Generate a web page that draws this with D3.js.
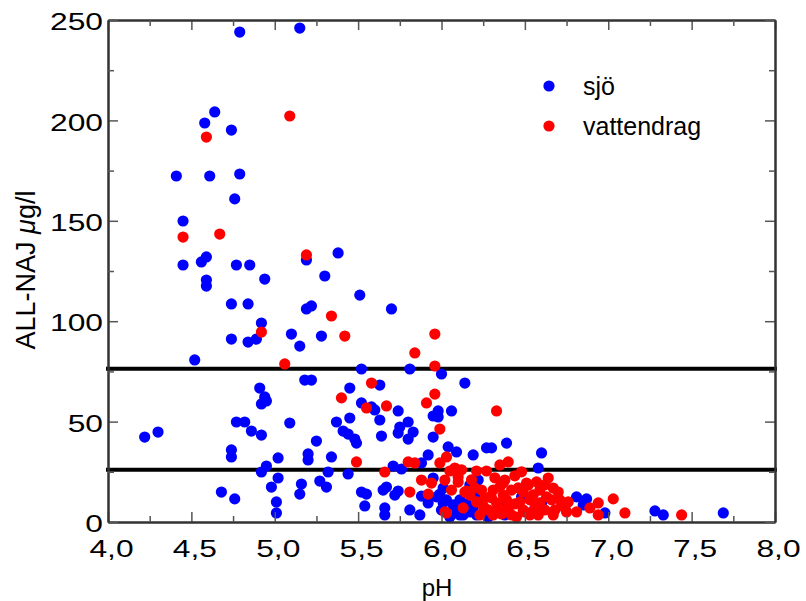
<!DOCTYPE html>
<html><head><meta charset="utf-8">
<script src="https://cdn.jsdelivr.net/npm/d3@7"></script>
<style>body{margin:0;background:#fff}</style>
</head><body>
<svg id="c" width="806" height="601"></svg>
<script>
const sjoPH=[4.79,5.15,4.64,4.58,4.74,4.41,4.61,4.79,4.76,4.45,4.45,4.56,4.59,4.77,4.85,4.59,4.59,4.94,4.74,4.84,5.19,5.38,5.30,5.51,5.19,5.22,5.70,4.92,4.74,4.84,4.89,5.10,5.15,5.28,4.52,5.52,5.81,6.00,4.22,4.30,4.91,4.94,4.95,4.92,5.18,5.22,4.77,4.82,4.86,4.92,5.09,4.74,4.74,5.02,5.20,5.20,5.34,5.25,5.45,5.52,5.58,5.60,5.63,5.63,5.74,5.45,5.37,5.41,5.44,5.48,5.49,5.64,5.74,5.75,5.80,5.83,5.80,5.95,5.98,5.98,6.06,5.92,6.04,4.95,4.92,5.02,4.98,5.01,5.01,4.68,4.76,5.16,5.15,5.27,5.31,5.32,5.44,5.71,5.76,5.88,5.52,5.55,5.54,5.66,5.66,5.65,5.67,5.74,5.72,5.81,5.87,5.88,5.92,5.95,5.99,6.01,6.14,5.95,6.39,6.09,6.19,6.27,6.30,5.97,6.07,6.11,6.17,6.21,6.60,6.58,6.01,6.03,6.11,6.19,6.25,6.38,6.53,6.60,6.09,6.13,6.48,6.17,6.22,6.81,6.87,6.85,6.98,7.28,7.33,7.69,6.00,6.05,6.15,6.20,6.28,6.35];
const sjoAl=[244.0,246.0,204.2,198.7,195.2,172.3,172.3,173.3,160.9,149.9,128.0,129.5,132.0,128.0,128.0,120.5,117.5,121.0,108.6,108.6,130.5,134.0,122.5,113.0,106.1,107.6,106.1,99.1,91.1,89.6,91.1,93.6,87.6,92.6,80.7,76.2,76.2,73.7,42.3,44.8,66.7,62.3,60.3,58.8,70.7,70.7,49.8,49.8,45.3,43.3,49.3,35.9,32.4,31.9,33.9,30.9,32.4,40.3,66.7,59.3,57.3,55.8,50.8,68.2,55.3,51.8,49.8,45.3,43.8,41.3,39.3,42.8,44.3,47.3,49.8,44.8,41.3,42.3,55.3,52.3,55.3,33.4,37.4,27.9,24.9,21.9,17.4,10.0,4.5,14.9,11.5,18.9,13.9,20.4,17.4,24.9,23.9,27.9,26.4,29.4,14.9,13.9,8.0,7.0,3.5,15.9,17.4,15.4,13.4,6.0,3.5,12.9,9.5,21.9,13.9,9.5,69.2,52.8,39.3,34.9,33.4,36.9,36.9,12.5,8.5,3.5,5.0,3.5,34.4,26.9,16.9,11.0,11.0,7.5,4.5,3.5,4.5,9.5,4.5,3.5,12.5,18.4,20.9,12.5,11.5,8.5,4.5,5.5,3.5,4.5,6.0,2.5,9.0,13.5,2.5,8.0];
const vattPH=[4.59,5.09,4.45,4.67,5.19,5.34,4.92,5.42,5.06,5.96,5.84,5.96,5.40,5.55,5.58,5.67,5.91,5.96,5.99,5.49,5.66,5.80,5.84,5.88,5.94,5.81,5.92,6.02,6.33,6.03,5.99,6.40,6.35,6.21,6.27,6.05,6.10,6.02,6.10,6.06,6.14,6.17,6.21,6.13,6.03,6.24,6.29,6.28,6.33,6.37,6.37,6.39,6.64,6.52,6.38,6.67,6.59,6.15,6.31,6.42,6.49,6.30,6.39,6.47,6.53,6.59,6.66,6.72,6.34,6.40,6.49,6.56,6.62,6.68,6.74,6.31,6.42,6.53,6.70,6.76,6.81,6.75,6.67,6.94,6.89,6.94,7.03,7.10,7.44,6.08,6.71,6.51,6.20,6.25,6.35,6.44,6.46,6.50,6.55,6.58,6.63,6.45,6.36,6.26,6.23,6.57,6.44,6.32,6.48,6.62,6.18,6.12];
const vattAl=[191.7,202.2,141.9,143.4,133.0,102.6,94.6,92.6,78.7,93.6,84.2,77.7,61.8,56.8,69.2,57.8,59.3,63.7,46.3,29.9,24.9,29.9,29.4,20.9,19.4,14.9,13.9,5.0,55.3,32.4,29.4,29.9,28.4,25.4,25.4,25.4,22.4,20.9,19.9,15.9,14.9,13.4,10.0,7.0,4.5,15.9,12.5,6.0,9.5,19.4,13.4,5.0,21.9,18.4,20.9,16.9,15.9,15.4,15.9,15.9,14.9,12.0,11.0,10.0,11.0,9.5,11.0,9.5,7.5,7.0,6.0,7.0,6.0,6.0,7.0,3.5,3.5,3.5,14.9,10.0,5.0,5.0,3.5,9.5,7.0,3.5,11.5,4.5,3.5,26.9,11.0,19.4,17.0,8.0,17.5,9.0,17.0,5.0,13.5,3.5,12.5,2.5,4.0,12.0,3.5,20.0,23.0,22.0,25.0,18.5,21.0,26.0];
const xTickValues=[4,4.5,5,5.5,6,6.5,7,7.5,8];
const xTickLabels=["4,0","4,5","5,0","5,5","6,0","6,5","7,0","7,5","8,0"];
const xMinorValues=[4.25,4.75,5.25,5.75,6.25,6.75,7.25,7.75];
const yTickValues=[0,50,100,150,200,250];
const yTickLabels=["0","50","100","150","200","250"];
const yMinorValues=[25,75,125,175,225];
const limitLines=[76.3,26.0];
const seriesNames=["sjö","vattendrag"];
const seriesColors=["#0000ff","#ff0000"];

const svg=d3.select("#c");
const L=108,R=775,T=20,B=522;
const x=d3.scaleLinear().domain([4,8]).range([L,R]);
const y=d3.scaleLinear().domain([0,250]).range([B,T]);
const FONT="'Liberation Sans', Arial, Helvetica, sans-serif";

// limit lines
svg.append("g").selectAll("line").data(limitLines).join("line")
  .attr("x1",x(4)-2).attr("x2",x(8)+2)
  .attr("y1",d=>y(d)).attr("y2",d=>y(d))
  .attr("stroke","#000").attr("stroke-width",4);

// points
const sjo=sjoPH.map((p,i)=>({x:p,y:sjoAl[i]}));
const vatt=vattPH.map((p,i)=>({x:p,y:vattAl[i]}));
svg.append("g").selectAll("circle").data(sjo).join("circle")
  .attr("cx",d=>x(d.x)).attr("cy",d=>y(d.y)).attr("r",5.6).attr("fill",seriesColors[0]);
svg.append("g").selectAll("circle").data(vatt).join("circle")
  .attr("cx",d=>x(d.x)).attr("cy",d=>y(d.y)).attr("r",5.6).attr("fill",seriesColors[1]);

// axes
function styleAxis(g){
  g.select(".domain").attr("stroke","#333").attr("stroke-width",2);
  g.selectAll(".tick line").attr("stroke","#555").attr("stroke-width",1.5);
}
const xLab=d=>xTickLabels[xTickValues.indexOf(d)];
const yLab=d=>yTickLabels[yTickValues.indexOf(d)];
const gB=svg.append("g").attr("transform",`translate(0,${B})`)
  .call(d3.axisBottom(x).tickValues(xTickValues).tickFormat(xLab).tickSizeInner(-10).tickSizeOuter(0).tickPadding(19));
const gBm=svg.append("g").attr("transform",`translate(0,${B})`)
  .call(d3.axisBottom(x).tickValues(xMinorValues).tickFormat("").tickSizeInner(-6).tickSizeOuter(0));
const gT=svg.append("g").attr("transform",`translate(0,${T})`)
  .call(d3.axisTop(x).tickValues(xTickValues).tickFormat("").tickSizeInner(-10).tickSizeOuter(0));
const gTm=svg.append("g").attr("transform",`translate(0,${T})`)
  .call(d3.axisTop(x).tickValues(xMinorValues).tickFormat("").tickSizeInner(-6).tickSizeOuter(0));
const gL=svg.append("g").attr("transform",`translate(${L},0)`)
  .call(d3.axisLeft(y).tickValues(yTickValues).tickFormat(yLab).tickSizeInner(-10).tickSizeOuter(0).tickPadding(5));
const gLm=svg.append("g").attr("transform",`translate(${L},0)`)
  .call(d3.axisLeft(y).tickValues(yMinorValues).tickFormat("").tickSizeInner(-6).tickSizeOuter(0));
const gR=svg.append("g").attr("transform",`translate(${R},0)`)
  .call(d3.axisRight(y).tickValues(yTickValues).tickFormat("").tickSizeInner(-10).tickSizeOuter(0));
const gRm=svg.append("g").attr("transform",`translate(${R},0)`)
  .call(d3.axisRight(y).tickValues(yMinorValues).tickFormat("").tickSizeInner(-6).tickSizeOuter(0));
[gB,gBm,gT,gTm,gL,gLm,gR,gRm].forEach(styleAxis);

// stretched tick labels
[gB,gL].forEach(g=>{
  g.selectAll(".tick text").attr("font-family",FONT).attr("font-size",23).attr("fill","#000")
   .each(function(){
     const len=this.getComputedTextLength();
     d3.select(this).attr("textLength",len*1.38).attr("lengthAdjust","spacingAndGlyphs");
   });
});
gL.selectAll(".tick text").attr("dy","0.42em");
gB.selectAll(".tick text").attr("dx",3);

// axis titles
svg.append("text").attr("x",437).attr("y",596).attr("text-anchor","middle")
  .attr("font-family",FONT).attr("font-size",24).text("pH");
const yt=svg.append("text").attr("transform","translate(35,270) rotate(-90)").attr("text-anchor","middle")
  .attr("font-family",FONT).attr("font-size",27);
yt.append("tspan").text("ALL-NAJ ");
yt.append("tspan").attr("font-style","italic").text("μ");
yt.append("tspan").text("g/l");

// legend
const leg=svg.append("g");
seriesNames.forEach((n,i)=>{
  const cy=86+i*40;
  leg.append("circle").attr("cx",549).attr("cy",cy).attr("r",5.6).attr("fill",seriesColors[i]);
  leg.append("text").attr("x",583).attr("y",cy+9).attr("font-family",FONT).attr("font-size",25).text(n);
});
</script>
</body></html>
